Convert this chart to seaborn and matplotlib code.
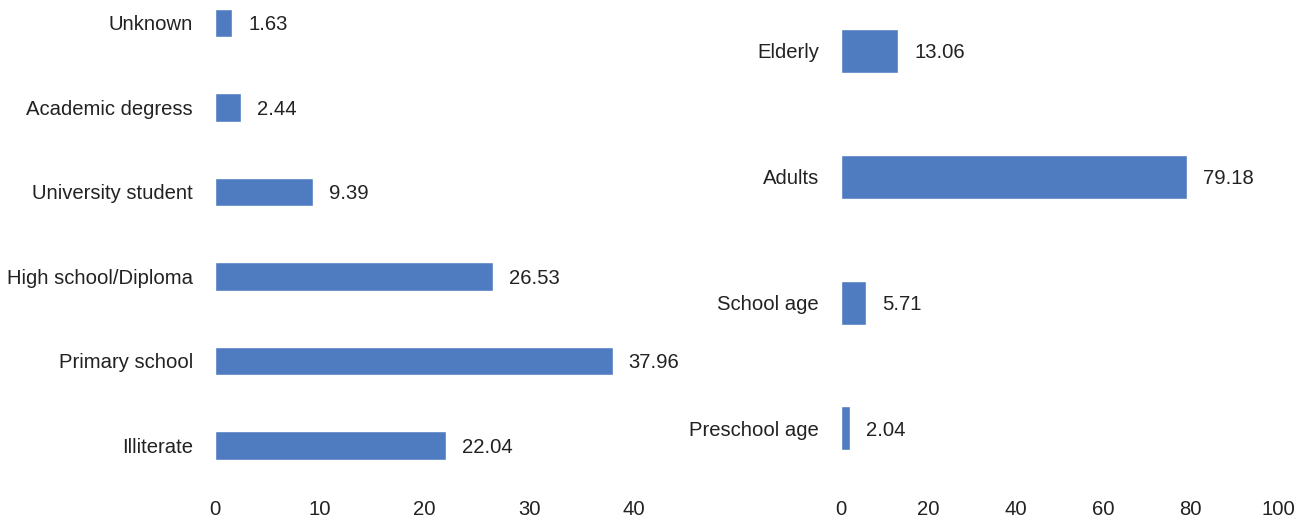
import matplotlib
matplotlib.use("Agg")
import matplotlib.pyplot as plt
import seaborn as sns
import pandas as pd

# Education level (%)
edu_levels = ["Unknown", "Academic degress", "University student",
              "High school/Diploma", "Primary school", "Illiterate"]
edu_values = [1.63, 2.44, 9.39, 26.53, 37.96, 22.04]

# Age group (%)
age_groups = ["Elderly", "Adults", "School age", "Preschool age"]
age_values = [13.06, 79.18, 5.71, 2.04]

edu_df = pd.DataFrame({"level": edu_levels, "pct": edu_values})
age_df = pd.DataFrame({"group": age_groups, "pct": age_values})

sns.set_theme(style="white")
plt.rcParams['font.family'] = ['Liberation Sans', 'DejaVu Sans']

bar_color = "#4f7cc1"
text_color = "#222222"
fs = 14.6

W, H = 1307, 519
fig = plt.figure(figsize=(W / 100, H / 100), dpi=100)

# axes placed in pixel terms (left, right, top, bottom)
ax1 = fig.add_axes([215 / W, 1 - 490 / H, 419 / W, 490 / H])
ax2 = fig.add_axes([841 / W, 1 - 490 / H, 437 / W, 490 / H])

sns.barplot(data=edu_df, x="pct", y="level", color=bar_color,
            width=0.34, saturation=1, ax=ax1)
sns.barplot(data=age_df, x="pct", y="group", color=bar_color,
            width=0.35, saturation=1, ax=ax2)

ax1.set_xlim(0, 40)
ax1.set_xticks([0, 10, 20, 30, 40])
ax1.set_ylim(5.527, -0.272)

ax2.set_xlim(0, 100)
ax2.set_xticks([0, 20, 40, 60, 80, 100])
ax2.set_ylim(3.49, -0.405)

for ax in (ax1, ax2):
    ax.set_xlabel("")
    ax.set_ylabel("")
    ax.grid(False)
    sns.despine(ax=ax, left=True, bottom=True, top=True, right=True)
    ax.tick_params(axis="y", length=0, pad=16, labelsize=fs, labelcolor=text_color)
    ax.tick_params(axis="x", length=0, pad=7, labelsize=fs, labelcolor=text_color)
    for c in ax.containers:
        labels = ax.bar_label(c, fmt="%.2f", padding=11.5, fontsize=fs, color=text_color)
        for t in labels:
            t.set_va("center_baseline")

fig.savefig("out.png", dpi=100)
